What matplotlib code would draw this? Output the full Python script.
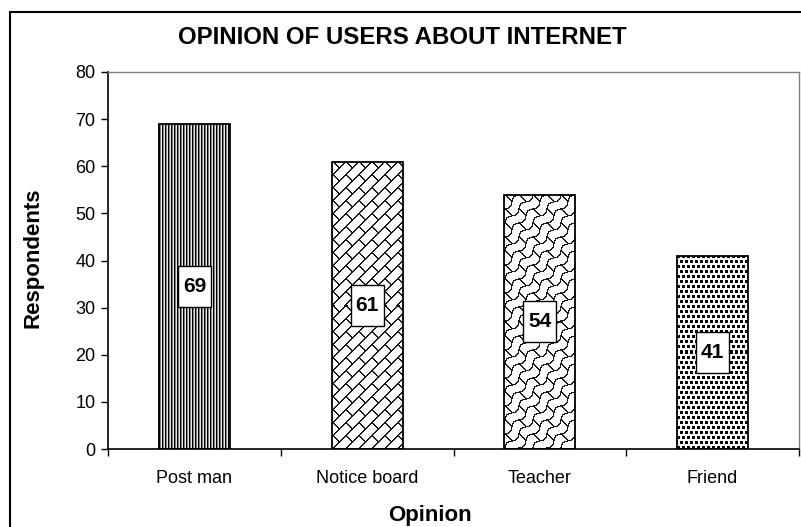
import numpy as np
import matplotlib.pyplot as plt
from matplotlib.patches import Rectangle

plt.rcParams['font.family'] = ['Liberation Sans', 'DejaVu Sans']

# chart data
opinions = ['Post man', 'Notice board', 'Teacher', 'Friend']
respondents = [69, 61, 54, 41]


def stripes(h, w):
    c = np.arange(w)[None, :] % 3
    tile = np.array([0.0, 0.5, 0.9])
    return np.repeat(tile[c], h, axis=0)


def bricks(h, w, period=13):
    r, c = np.mgrid[0:h, 0:w]
    s = c + r
    k = s // period
    line = (s % period) < 2
    t = (c - r + (k % 2) * period) % (2 * period)
    joint = t < 2
    return np.where(line | joint, 0.1, 1.0)


def shingles(h, w, period=14):
    r, c = np.mgrid[0:h, 0:w]
    u = c + r
    v = c - r
    wave = u + 3.0 * np.sin(2 * np.pi * v / (2 * period))
    k = np.floor(wave / period).astype(int)
    line = (wave % period) < 2
    t = (v + (k % 2) * period) % (2 * period)
    joint = t < 2
    return np.where(line | joint, 0.1, 1.0)


def dots(h, w):
    r, c = np.mgrid[0:h, 0:w]
    row = r // 5
    cc = (c + (row % 2) * 2) % 5
    on = ((r % 5) < 3) & (cc < 3)
    return np.where(on, 0.0, 1.0)


textures = [stripes, bricks, shingles, dots]

fig = plt.figure(figsize=(8.01, 5.27), dpi=100)
ax = fig.add_axes([108 / 801, 1 - 449 / 527, 691 / 801, 377 / 527])

x = np.arange(len(opinions))
ax.set_xlim(-0.5, len(opinions) - 0.5)
ax.set_ylim(0, 80)

bars = ax.bar(x, respondents, width=0.41, facecolor='none', edgecolor='black',
              linewidth=1.3, zorder=3)

# fill each bar with its texture, clipped to the bar outline
for bar, tex in zip(bars, textures):
    x0, y0 = bar.get_x(), bar.get_y()
    x1, y1 = x0 + bar.get_width(), y0 + bar.get_height()
    (px0, py0), (px1, py1) = ax.transData.transform([(x0, y0), (x1, y1)])
    img = tex(int(round(py1 - py0)), int(round(px1 - px0)))
    im = ax.imshow(img, cmap='gray', vmin=0, vmax=1, extent=(x0, x1, y0, y1),
                   interpolation='nearest', aspect='auto', zorder=2)
    im.set_clip_path(bar)

ax.set_aspect('auto')
ax.set_xlim(-0.5, len(opinions) - 0.5)
ax.set_ylim(0, 80)

# value boxes in the middle of each bar
box_w, box_h = 0.19, 8.7
for xi, v in zip(x, respondents):
    ax.add_patch(Rectangle((xi - box_w / 2, v / 2 - box_h / 2), box_w, box_h,
                           facecolor='white', edgecolor='black',
                           linewidth=1.0, zorder=4))
    ax.text(xi, v / 2, str(v), ha='center', va='center', fontsize=15,
            fontweight='bold', zorder=5)

ax.set_yticks(range(0, 81, 10))
ax.set_xticks(x)
ax.set_xticklabels(opinions, fontsize=13)
ax.set_xticks(np.arange(len(opinions) + 1) - 0.5, minor=True)
ax.tick_params(axis='x', which='major', length=0, pad=15)
ax.tick_params(axis='x', which='minor', length=5, width=1, direction='out')
ax.tick_params(axis='y', length=5, width=1, labelsize=13, pad=4)

for side in ['top', 'right']:
    ax.spines[side].set_color('#808080')
    ax.spines[side].set_linewidth(1.0)
for side in ['left', 'bottom']:
    ax.spines[side].set_color('black')
    ax.spines[side].set_linewidth(1.2)

fig.text(33 / 801, 1 - 258 / 527, 'Respondents', rotation=90, ha='center',
         va='center', fontsize=16, fontweight='bold')
fig.text(430 / 801, 1 - 521 / 527, 'Opinion', ha='center', va='baseline',
         fontsize=16, fontweight='bold')
fig.text(402 / 801, 1 - 37 / 527, 'OPINION OF USERS ABOUT INTERNET',
         ha='center', va='center', fontsize=17.3, fontweight='bold')

# outer chart frame
frame = Rectangle((10 / 801, -0.1), 1.0, 1 - 12 / 527 + 0.1,
                  transform=fig.transFigure, fill=False,
                  edgecolor='black', linewidth=1.5)
fig.patches.append(frame)

fig.savefig('out.png', dpi=100)
